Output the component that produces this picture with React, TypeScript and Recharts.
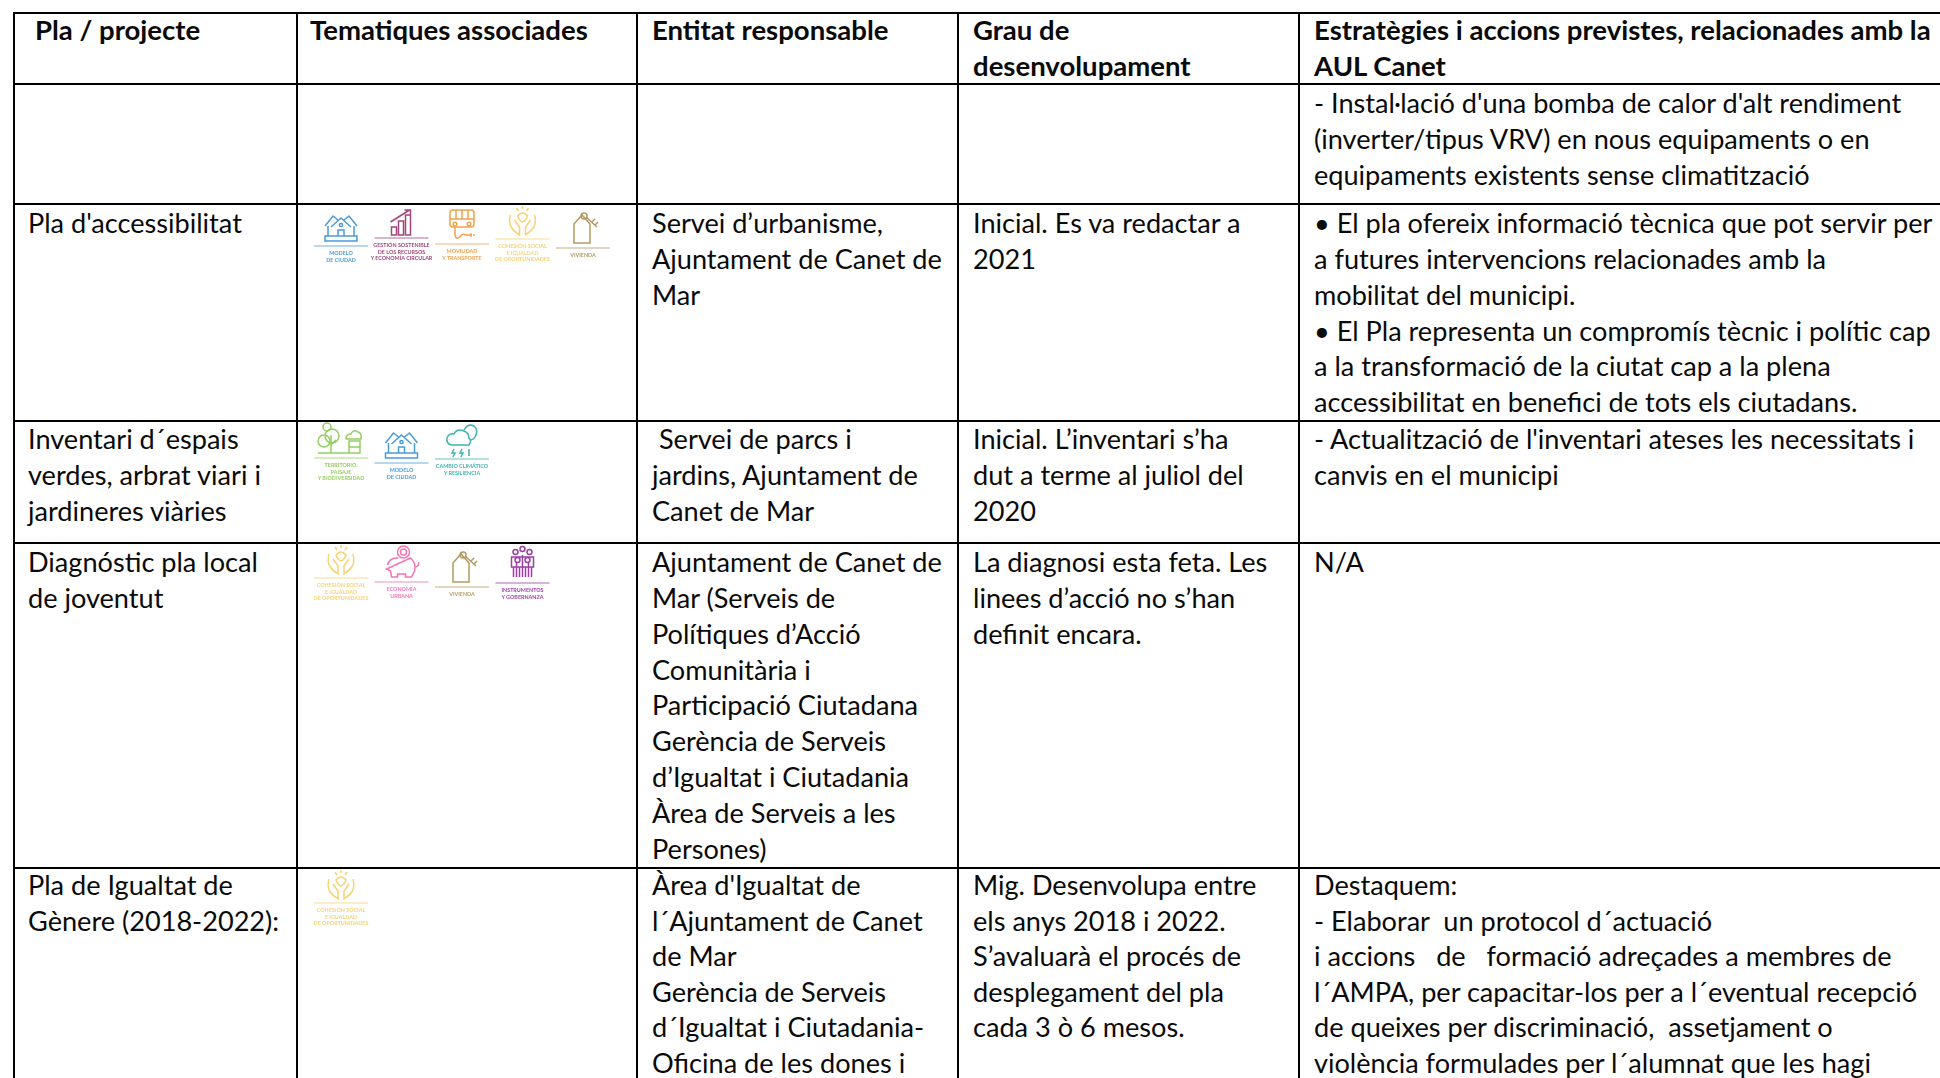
import { ReferenceArea, ReferenceLine, Scatter, ScatterChart, XAxis, YAxis } from "recharts";

const WIDTH = 1940;
const HEIGHT = 1078;

// table frame
const columnLines = [14, 297, 637, 958, 1299];
const rowLines = [13, 84, 204, 421, 543, 868];
const headerColumnX = [35, 310, 652, 973, 1314];
const bodyColumnX = [28, 310, 652, 973, 1314];
const headerFirstLine = 40;
const bodyFirstLine = [113, 233, 449, 572, 895];
const HEADER_PITCH = 35.85;
// last row is a touch tighter so its bottom line stays on the page
const bodyLinePitch = [35.85, 35.85, 35.85, 35.85, 35.5];

const headerCells = [
  ["Pla / projecte"],
  ["Tematiques associades"],
  ["Entitat responsable"],
  ["Grau de", "desenvolupament"],
  ["Estratègies i accions previstes, relacionades amb la", "AUL Canet"]
];

const planColumn = [
  [],
  ["Pla d'accessibilitat"],
  ["Inventari d´espais", "verdes, arbrat viari i", "jardineres viàries"],
  ["Diagnóstic pla local", "de joventut"],
  ["Pla de Igualtat de", "Gènere (2018-2022):"]
];

const entityColumn = [
  [],
  ["Servei d’urbanisme,", "Ajuntament de Canet de", "Mar"],
  [" Servei de parcs i", "jardins, Ajuntament de", "Canet de Mar"],
  [
    "Ajuntament de Canet de",
    "Mar (Serveis de",
    "Polítiques d’Acció",
    "Comunitària i",
    "Participació Ciutadana",
    "Gerència de Serveis",
    "d’Igualtat i Ciutadania",
    "Àrea de Serveis a les",
    "Persones)"
  ],
  [
    "Àrea d'Igualtat de",
    "l´Ajuntament de Canet",
    "de Mar",
    "Gerència de Serveis",
    "d´Igualtat i Ciutadania-",
    "Oficina de les dones i"
  ]
];

const stageColumn = [
  [],
  ["Inicial. Es va redactar a", "2021"],
  ["Inicial. L’inventari s’ha", "dut a terme al juliol del", "2020"],
  ["La diagnosi esta feta. Les", "linees d’acció no s’han", "definit encara."],
  [
    "Mig. Desenvolupa entre",
    "els anys 2018 i 2022.",
    "S’avaluarà el procés de",
    "desplegament del pla",
    "cada 3 ò 6 mesos."
  ]
];

const actionsColumn = [
  [
    "- Instal·lació d'una bomba de calor d'alt rendiment",
    "(inverter/tipus VRV) en nous equipaments o en",
    "equipaments existents sense climatització"
  ],
  [
    "• El pla ofereix informació tècnica que pot servir per",
    "a futures intervencions relacionades amb la",
    "mobilitat del municipi.",
    "• El Pla representa un compromís tècnic i polític cap",
    "a la transformació de la ciutat cap a la plena",
    "accessibilitat en benefici de tots els ciutadans."
  ],
  ["- Actualització de l'inventari ateses les necessitats i", "canvis en el municipi"],
  ["N/A"],
  [
    "Destaquem:",
    "- Elaborar  un protocol d´actuació",
    "i accions   de   formació adreçades a membres de",
    "l´AMPA, per capacitar-los per a l´eventual recepció",
    "de queixes per discriminació,  assetjament o",
    "violència formulades per l´alumnat que les hagi"
  ]
];

const bodyColumns = [planColumn, [[], [], [], [], []], entityColumn, stageColumn, actionsColumn];

// themes shown per table row
const rowThemes = [
  [],
  ["modelo", "gestion", "movilidad", "cohesion", "vivienda"],
  ["territorio", "modelo", "clima"],
  ["cohesion", "economia", "vivienda", "instrumentos"],
  ["cohesion"]
];
// white image edges that eat the top of the row line
const imageRightEdge = [0, 614, 493, 553, 372];

const themeCaptions: Record<string, string[]> = {
  modelo: ["MODELO", "DE CIUDAD"],
  gestion: ["GESTIÓN SOSTENIBLE", "DE LOS RECURSOS", "Y ECONOMÍA CIRCULAR"],
  movilidad: ["MOVILIDAD", "Y TRANSPORTE"],
  cohesion: ["COHESIÓN SOCIAL", "E IGUALDAD", "DE OPORTUNIDADES"],
  vivienda: ["VIVIENDA"],
  territorio: ["TERRITORIO,", "PAISAJE", "Y BIODIVERSIDAD"],
  clima: ["CAMBIO CLIMÁTICO", "Y RESILIENCIA"],
  economia: ["ECONOMÍA", "URBANA"],
  instrumentos: ["INSTRUMENTOS", "Y GOBERNANZA"]
};

const themeColors: Record<string, string> = {
  modelo: "#4a9bd9",
  gestion: "#a2457e",
  movilidad: "#f0a24e",
  cohesion: "#f8d273",
  vivienda: "#b49a62",
  territorio: "#93cf5f",
  clima: "#3fb3ae",
  economia: "#f274b4",
  instrumentos: "#9c3fa5"
};

const themeRuleY: Record<string, number> = {
  modelo: 42,
  gestion: 34,
  movilidad: 40,
  cohesion: 35,
  vivienda: 44,
  territorio: 37,
  clima: 38,
  economia: 39,
  instrumentos: 40
};

const headerPoints = headerCells.flatMap((lines, c) =>
  lines.map((label, i) => ({ x: headerColumnX[c], y: headerFirstLine + i * HEADER_PITCH, label }))
);

const bodyPoints = bodyColumns.flatMap((rows, c) =>
  rows.flatMap((lines, r) =>
    lines.map((label, i) => ({ x: bodyColumnX[c], y: bodyFirstLine[r] + i * bodyLinePitch[r], label }))
  )
);

const themePoints = rowThemes.flatMap((themes, r) =>
  themes.map((theme, i) => ({ x: 341 + i * 60.5, y: rowLines[r + 1], theme }))
);

function CellText({ cx, cy, payload, bold }: any) {
  return (
    <text
      transform={`translate(${cx},${cy}) scale(${bold ? 1.02 : 1.005},1)`}
      fontFamily="Lato"
      fontSize={27}
      fontWeight={bold ? 700 : 400}
      fill="#0a0a0a"
      style={{ whiteSpace: "pre" }}
    >
      {payload.label}
    </text>
  );
}

function Glyph({ theme }: { theme: string }) {
  switch (theme) {
    case "modelo":
      return (
        <>
          <path d="M-16 22L-8 12L-3 16M16 22L8 12L3 16M-10 23L0 14L10 23M-13 22V32M13 22V32M-16 32H16V37H-16Z" />
          <path d="M-3 32V26H3V32" />
          <circle cx={0} cy={21} r={1.6} />
        </>
      );
    case "gestion":
      return <path d="M-11 18L8 6M3 6H9V11M-10 23H-5V31H-10ZM-3 17H2V31H-3ZM4 11H9V31H4Z" />;
    case "movilidad":
      return (
        <>
          <path d="M-12 9Q-12 6 -9 6H9Q12 6 12 9V20Q12 23 9 23H-9Q-12 23 -12 20ZM-12 15H12M-6 6V15M0 6V15M6 6V15" />
          <path d="M-7 23V31Q-6 36 -2 33Q0 29 4 31H9M9 29V33M12 30V32" />
          <circle cx={-7} cy={20} r={1.8} />
          <circle cx={7} cy={20} r={1.8} />
        </>
      );
    case "cohesion":
      return (
        <>
          <path d="M-12 11C-15 22 -10 26 -3 31V23L-8 16M12 11C15 22 10 26 3 31V23L8 16" />
          <path d="M-5 12Q0 6 5 12Q3 17 0 18Q-3 17 -5 12ZM0 2V5M-6 4L-4 7M6 4L4 7" />
        </>
      );
    case "vivienda":
      return (
        <>
          <path d="M-9 20L-1 11L7 20V39H-9Z" />
          <circle cx={1} cy={12} r={3} />
          <path d="M3 13L14 23M9 18L12 15M12 21L15 18" />
        </>
      );
    case "territorio":
      return (
        <>
          <circle cx={-14} cy={6} r={4} />
          <circle cx={-9} cy={15} r={7} />
          <circle cx={-17} cy={20} r={6} />
          <path d="M-10 14V32M-10 24L-5 19M-23 32H19M8 20H19V32H8ZM8 26H19" />
          <path d="M5 18Q5 13 10 13Q12 8 17 11Q21 12 20 18Z" />
        </>
      );
    case "clima":
      return (
        <>
          <path d="M-10 24Q-16 23 -15 17Q-13 12 -8 13Q-5 7 2 10Q7 12 7 17Q10 20 7 24Z" />
          <path d="M2 9Q6 2 12 5Q17 9 13 16Q12 18 9 19" />
          <path d="M-8 28L-10 32H-7L-9 36M0 28L-2 32H1L-1 36M7 28V35" />
        </>
      );
    case "economia":
      return (
        <>
          <circle cx={2} cy={9} r={6} />
          <circle cx={2} cy={9} r={3} />
          <path d="M-14 22Q-12 14 -3 15M9 15Q15 20 13 28L10 34H4V31H-4V34H-10L-11 28L-15 26Z" />
          <path d="M14 24Q18 23 17 19" />
        </>
      );
    case "instrumentos":
      return (
        <>
          <circle cx={-7} cy={9} r={2.5} />
          <circle cx={0} cy={6} r={2.5} />
          <circle cx={7} cy={9} r={2.5} />
          <circle cx={-5} cy={17} r={2.5} />
          <circle cx={5} cy={17} r={2.5} />
          <path d="M-11 14H11V24H-11ZM-9 24V34M-3 24V34M3 24V34M9 24V34M-6 20V34M6 20V34M0 12V34" />
        </>
      );
    default:
      return null;
  }
}

function ThemeIcon({ cx, cy, payload }: any) {
  const theme: string = payload.theme;
  const color = themeColors[theme];
  const ruleY = themeRuleY[theme];
  return (
    <g transform={`translate(${cx},${cy})`} filter="url(#softIcon)">
      <g fill="none" stroke={color} strokeWidth={1.5}>
        <Glyph theme={theme} />
      </g>
      <line x1={-27} x2={27} y1={ruleY} y2={ruleY} stroke={color} strokeWidth={1.2} opacity={0.8} />
      {themeCaptions[theme].map((line, i) => (
        <text
          key={line}
          x={0}
          y={ruleY + 9 + i * 6.5}
          textAnchor="middle"
          fontFamily="Lato"
          fontSize={5.4}
          fontWeight={700}
          fill={color}
        >
          {line}
        </text>
      ))}
    </g>
  );
}

export default function App() {
  return (
    <div style={{ position: "absolute", left: 0, top: 0, width: WIDTH, height: HEIGHT, background: "#fff" }}>
      <ScatterChart width={WIDTH} height={HEIGHT} margin={{ top: 0, right: 0, bottom: 0, left: 0 }}>
        <defs>
          <filter id="softIcon" x="-20%" y="-20%" width="140%" height="140%">
            <feGaussianBlur stdDeviation={0.45} />
          </filter>
        </defs>
        <XAxis type="number" dataKey="x" domain={[0, WIDTH]} hide />
        <YAxis type="number" dataKey="y" domain={[0, HEIGHT]} reversed hide />
        {columnLines.map((x) => (
          <ReferenceLine
            key={x}
            segment={[
              { x, y: rowLines[0] },
              { x, y: HEIGHT }
            ]}
            stroke="#000"
            strokeWidth={2}
          />
        ))}
        {rowLines.map((y) => (
          <ReferenceLine
            key={y}
            segment={[
              { x: 13, y },
              { x: WIDTH, y }
            ]}
            stroke="#000"
            strokeWidth={2}
          />
        ))}
        {imageRightEdge.map((right, r) =>
          right > 0 ? (
            <ReferenceArea
              key={right}
              x1={311}
              x2={right}
              y1={rowLines[r + 1] - 1}
              y2={rowLines[r + 1]}
              fill="#fff"
              fillOpacity={1}
              stroke="none"
            />
          ) : null
        )}
        <Scatter
          data={headerPoints}
          isAnimationActive={false}
          shape={(props: any) => <CellText {...props} bold />}
        />
        <Scatter data={bodyPoints} isAnimationActive={false} shape={(props: any) => <CellText {...props} />} />
        <Scatter data={themePoints} isAnimationActive={false} shape={(props: any) => <ThemeIcon {...props} />} />
      </ScatterChart>
    </div>
  );
}
